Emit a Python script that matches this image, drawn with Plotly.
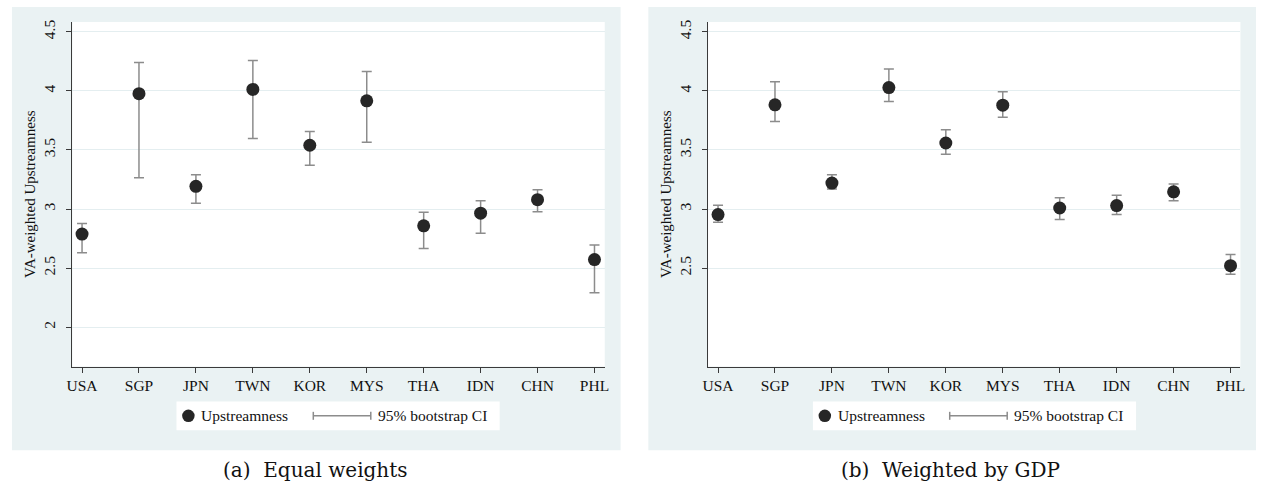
import plotly.graph_objects as go

countries = ["USA", "SGP", "JPN", "TWN", "KOR", "MYS", "THA", "IDN", "CHN", "PHL"]

# (a) Equal weights
eq_value = [2.788, 3.977, 3.192, 4.013, 3.540, 3.916, 2.858, 2.965, 3.079, 2.572]
eq_lower = [2.630, 3.264, 3.049, 3.598, 3.371, 3.565, 2.667, 2.796, 2.978, 2.291]
eq_upper = [2.877, 4.240, 3.290, 4.258, 3.657, 4.165, 2.973, 3.071, 3.163, 2.695]

# (b) Weighted by GDP
gdp_value = [2.953, 3.882, 3.220, 4.028, 3.559, 3.879, 3.009, 3.029, 3.146, 2.521]
gdp_lower = [2.889, 3.742, 3.169, 3.910, 3.464, 3.778, 2.911, 2.953, 3.071, 2.448]
gdp_upper = [3.032, 4.078, 3.290, 4.185, 3.672, 3.992, 3.096, 3.116, 3.213, 2.616]

left_ticks = [2, 2.5, 3, 3.5, 4, 4.5]
right_ticks = [2.5, 3, 3.5, 4, 4.5]
y_title = "VA-weighted Upstreamness"
legend_labels = ["Upstreamness", "95% bootstrap CI"]
captions = ["(a)&nbsp; Equal weights", "(b)&nbsp; Weighted by GDP"]

W, H = 1263, 495
def px(x):
    return x / W
def py(y):
    return 1 - y / H

MARK = "#262626"
ERR = "#8c8c8c"
PANEL = "#eaf2f3"
GRID = "#e4eef0"
AXC = "#3a3a3a"
TICKFONT = dict(family="Liberation Serif", size=15.5, color="#111")

fig = go.Figure()

for i, (vals, lo, hi) in enumerate([(eq_value, eq_lower, eq_upper),
                                    (gdp_value, gdp_lower, gdp_upper)]):
    suffix = "" if i == 0 else "2"
    fig.add_trace(go.Scatter(
        x=countries, y=vals, mode="markers",
        xaxis="x" + suffix, yaxis="y" + suffix,
        marker=dict(color=MARK, size=13),
        error_y=dict(type="data", symmetric=False,
                     array=[h - v for h, v in zip(hi, vals)],
                     arrayminus=[v - l for v, l in zip(vals, lo)],
                     color=ERR, thickness=1.5, width=5),
        showlegend=False, hoverinfo="x+y",
    ))

plot_boxes = [(67, 604), (708.3, 1245.3)]
y_top, y_bot = 20, 366
x_ranges = [[-0.169, 9.18], [-0.174, 9.174]]
yr = [1.667, 4.584]

def xaxis(i):
    l, r = plot_boxes[i]
    return dict(domain=[px(l), px(r)], range=x_ranges[i], type="category",
                anchor="y" if i == 0 else "y2",
                showline=True, linecolor=AXC, linewidth=1.3,
                ticks="outside", ticklen=5, tickcolor=AXC, tickwidth=1,
                showgrid=False, zeroline=False, tickfont=TICKFONT,
                fixedrange=True)

def yaxis(i, ticks):
    return dict(domain=[py(y_bot), py(y_top)], range=yr,
                anchor="x" if i == 0 else "x2",
                tickvals=ticks, ticktext=[f"{t:g}" for t in ticks],
                tickangle=-90, ticklabelstandoff=5,
                showline=True, linecolor=AXC, linewidth=1.3,
                ticks="outside", ticklen=5, tickcolor=AXC, tickwidth=1,
                showgrid=True, gridcolor=GRID, gridwidth=1, zeroline=False,
                tickfont=TICKFONT,
                title=dict(text=y_title, font=dict(family="Liberation Serif", size=15, color="#111"),
                           standoff=1),
                fixedrange=True)

shapes = []
annotations = []
panels = [(6, 620), (648, 1261)]
legend_boxes = [(172, 498), (814, 1140)]
cap_x = [312.5, 953]
for i in range(2):
    l, r = panels[i]
    shapes.append(dict(type="rect", xref="paper", yref="paper", layer="below",
                       x0=px(l), x1=px(r), y0=py(450), y1=py(5),
                       fillcolor=PANEL, line=dict(width=0)))
    suffix = "" if i == 0 else "2"
    shapes.append(dict(type="rect", xref=f"x{suffix} domain", yref=f"y{suffix} domain",
                       layer="below", x0=0, x1=1, y0=0, y1=1,
                       fillcolor="white", line=dict(width=0)))
    bl, br = legend_boxes[i]
    shapes.append(dict(type="rect", xref="paper", yref="paper", layer="below",
                       x0=px(bl), x1=px(br), y0=py(430), y1=py(401),
                       fillcolor="white", line=dict(width=0)))
    # legend marker
    cx, cy, rr = bl + 12, 415.5, 6.3
    shapes.append(dict(type="circle", xref="paper", yref="paper",
                       x0=px(cx - rr), x1=px(cx + rr), y0=py(cy + rr), y1=py(cy - rr),
                       fillcolor=MARK, line=dict(width=0)))
    annotations.append(dict(xref="paper", yref="paper", x=px(bl + 23), y=py(cy),
                            text=legend_labels[0], showarrow=False,
                            xanchor="left", yanchor="middle",
                            font=dict(family="Liberation Serif", size=15.5, color="#111")))
    # legend CI symbol
    lx0, lx1 = bl + 138, bl + 196
    shapes.append(dict(type="line", xref="paper", yref="paper",
                       x0=px(lx0), x1=px(lx1), y0=py(cy), y1=py(cy),
                       line=dict(color=ERR, width=1.5)))
    for xx in (lx0, lx1):
        shapes.append(dict(type="line", xref="paper", yref="paper",
                           x0=px(xx), x1=px(xx), y0=py(cy - 4), y1=py(cy + 4),
                           line=dict(color=ERR, width=1.5)))
    annotations.append(dict(xref="paper", yref="paper", x=px(bl + 201), y=py(cy),
                            text=legend_labels[1], showarrow=False,
                            xanchor="left", yanchor="middle",
                            font=dict(family="Liberation Serif", size=15.5, color="#111")))
    annotations.append(dict(xref="paper", yref="paper", x=px(cap_x[i]), y=py(470),
                            text=captions[i], showarrow=False,
                            xanchor="center", yanchor="middle",
                            font=dict(family="DejaVu Serif", size=20, color="#111")))

fig.update_layout(
    width=W, height=H, margin=dict(l=0, r=0, t=0, b=0),
    paper_bgcolor="white", plot_bgcolor="rgba(0,0,0,0)",
    xaxis=xaxis(0), yaxis=yaxis(0, left_ticks),
    xaxis2=xaxis(1), yaxis2=yaxis(1, right_ticks),
    shapes=shapes, annotations=annotations, showlegend=False,
)

fig.write_html("out.html", config={"displayModeBar": False},
               post_script="document.body.style.margin='0';document.body.style.overflow='hidden';")
